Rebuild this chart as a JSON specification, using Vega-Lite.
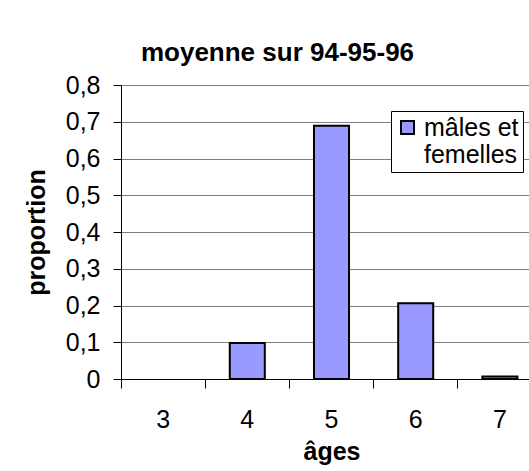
{
  "$schema": "https://vega.github.io/schema/vega-lite/v6.json",
  "autosize": {"type": "none"},
  "padding": {"left": 121, "top": 85, "right": 0, "bottom": 92},
  "width": 421,
  "height": 294,
  "background": "white",
  "title": {
    "text": "moyenne sur 94-95-96",
    "font": "Liberation Sans",
    "fontSize": 26,
    "fontWeight": "bold",
    "color": "black",
    "anchor": "middle",
    "dx": -54,
    "offset": 7
  },
  "data": {
    "values": [
      {"age": "3", "proportion": 0, "serie": "mâles et femelles"},
      {"age": "4", "proportion": 0.098, "serie": "mâles et femelles"},
      {"age": "5", "proportion": 0.689, "serie": "mâles et femelles"},
      {"age": "6", "proportion": 0.206, "serie": "mâles et femelles"},
      {"age": "7", "proportion": 0.007, "serie": "mâles et femelles"}
    ]
  },
  "mark": {"type": "bar", "width": {"band": 0.416}, "stroke": "black"},
  "encoding": {
    "x": {
      "field": "age",
      "type": "ordinal",
      "scale": {"paddingInner": 0, "paddingOuter": 0},
      "axis": {
        "title": "âges",
        "titleFont": "Liberation Sans",
        "titleFontSize": 25,
        "titleFontWeight": "bold",
        "titleColor": "black",
        "titlePadding": 7,
        "labelFont": "Liberation Sans",
        "labelFontSize": 25,
        "labelColor": "black",
        "labelAngle": 0,
        "labelAlign": "center",
        "labelDx": 42,
        "labelPadding": 19,
        "bandPosition": 0,
        "tickSize": 9,
        "tickColor": "black",
        "domainColor": "black",
        "grid": false
      }
    },
    "y": {
      "field": "proportion",
      "type": "quantitative",
      "scale": {"domain": [0, 0.8], "nice": false},
      "axis": {
        "title": "proportion",
        "titleFont": "Liberation Sans",
        "titleFontSize": 25,
        "titleFontWeight": "bold",
        "titleColor": "black",
        "titlePadding": 16,
        "labelFont": "Liberation Sans",
        "labelFontSize": 25,
        "labelColor": "black",
        "labelPadding": 13,
        "labelExpr": "replace(format(datum.value, '.1~f'), '.', ',')",
        "values": [0, 0.1, 0.2, 0.3, 0.4, 0.5, 0.6, 0.7, 0.8],
        "tickSize": 8,
        "tickColor": "black",
        "domainColor": "black",
        "grid": true,
        "gridColor": "#808080",
        "gridWidth": 1
      }
    },
    "strokeWidth": {
      "condition": {"test": "datum.proportion == 0", "value": 0},
      "value": 2
    },
    "fill": {
      "field": "serie",
      "type": "nominal",
      "scale": {"range": ["#9999FF"]},
      "legend": {
        "title": null,
        "orient": "none",
        "legendX": 270,
        "legendY": 26,
        "fillColor": "white",
        "strokeColor": "black",
        "padding": 4,
        "symbolType": "square",
        "symbolSize": 169,
        "symbolStrokeColor": "black",
        "symbolStrokeWidth": 2,
        "labelFont": "Liberation Sans",
        "labelFontSize": 25,
        "labelColor": "black",
        "labelLimit": 0,
        "labelExpr": "['mâles et', ' femelles']"
      }
    }
  },
  "config": {
    "view": {"stroke": null}
  }
}
